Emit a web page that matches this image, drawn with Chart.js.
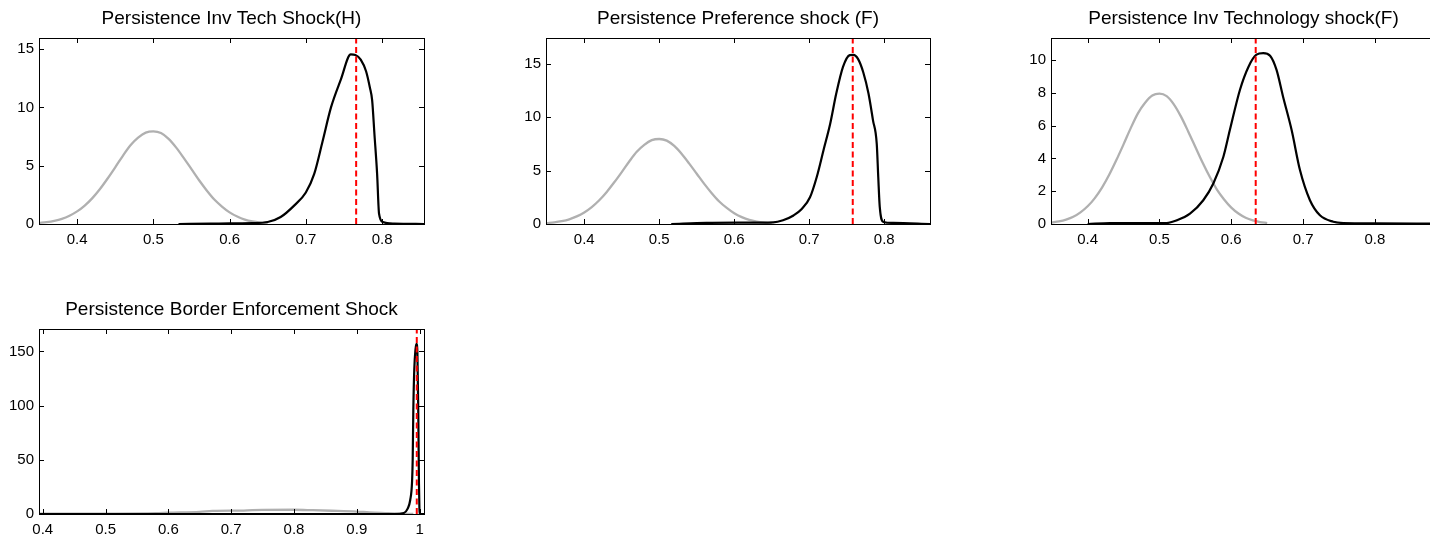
<!DOCTYPE html>
<html>
<head>
<meta charset="utf-8">
<script src="https://cdn.jsdelivr.net/npm/chart.js@4.4.0/dist/chart.umd.min.js"></script>
<style>
  html, body { margin: 0; padding: 0; background: #fff; overflow: hidden; }
  body { width: 1430px; height: 535px; position: relative; }
  canvas { position: absolute; }
</style>
</head>
<body>
<canvas id="c1"></canvas>
<canvas id="c2"></canvas>
<canvas id="c3"></canvas>
<canvas id="c4"></canvas>
<script>
// panel titles
var titles = [
  'Persistence Inv Tech Shock(H)',
  'Persistence Preference shock (F)',
  'Persistence Inv Technology shock(F)',
  'Persistence Border Enforcement Shock'
];

// prior density (grey), same prior for the first three panels
var priorX = [0.35, 0.36, 0.37, 0.38, 0.39, 0.40, 0.41, 0.42, 0.43, 0.44, 0.45, 0.46, 0.47, 0.48, 0.49, 0.50,
              0.51, 0.52, 0.53, 0.54, 0.55, 0.56, 0.57, 0.58, 0.59, 0.60, 0.61, 0.62, 0.63, 0.64, 0.65];
var priorY = [0.09, 0.16, 0.27, 0.44, 0.71, 1.08, 1.58, 2.22, 3.00, 3.90, 4.86, 5.85, 6.75, 7.40, 7.84, 7.95,
              7.80, 7.30, 6.55, 5.65, 4.70, 3.75, 2.88, 2.10, 1.50, 1.00, 0.64, 0.38, 0.22, 0.12, 0.06];

// posterior densities (black)
var postInvTechHX = [0.533, 0.575, 0.600, 0.630, 0.650, 0.667, 0.685, 0.700, 0.711, 0.722, 0.733, 0.746,
                     0.759, 0.765, 0.772, 0.779, 0.784, 0.787, 0.790, 0.7935, 0.796, 0.801, 0.816, 0.855];
var postInvTechHY = [0.00, 0.03, 0.06, 0.08, 0.17, 0.60, 1.60, 2.70, 4.30, 7.10, 10.0, 12.4,
                     14.55, 14.5, 14.1, 13.1, 11.7, 10.6, 7.7, 4.3, 0.9, 0.17, 0.03, 0.0];

var postPrefFX = [0.516, 0.563, 0.610, 0.652, 0.665, 0.679, 0.690, 0.701, 0.710, 0.719, 0.728, 0.736, 0.745,
                  0.754, 0.759, 0.765, 0.772, 0.779, 0.785, 0.790, 0.792, 0.794, 0.799, 0.812, 0.861];
var postPrefFY = [0.00, 0.10, 0.12, 0.15, 0.35, 0.80, 1.40, 2.50, 4.40, 6.90, 9.40, 12.2, 14.7,
                  15.8, 15.83, 15.45, 14.2, 12.2, 9.7, 7.5, 4.4, 1.6, 0.19, 0.10, 0.00];

var postInvTechFX = [0.400, 0.431, 0.510, 0.524, 0.5425, 0.561, 0.575, 0.589, 0.598, 0.612, 0.624, 0.635,
                     0.6445, 0.654, 0.663, 0.672, 0.684, 0.6956, 0.7095, 0.7234, 0.742, 0.756, 0.800, 0.885];
var postInvTechFY = [0.00, 0.06, 0.06, 0.22, 0.63, 1.45, 2.47, 4.10, 5.73, 8.18, 9.60, 10.33,
                     10.43, 10.27, 9.40, 7.78, 5.73, 3.29, 1.45, 0.53, 0.14, 0.06, 0.04, 0.02];

// border enforcement: own prior and posterior
var priorBorderX = [0.394, 0.500, 0.580, 0.600, 0.650, 0.670, 0.720, 0.750, 0.800, 0.830, 0.860, 0.900,
                    0.920, 0.950, 0.970, 0.990];
var priorBorderY = [0.3, 0.4, 0.8, 1.2, 2.0, 2.8, 3.2, 3.8, 3.9, 3.5, 3.0, 2.2, 1.5, 0.8, 0.3, 0.05];
var postBorderX = [0.394, 0.960, 0.975, 0.981, 0.985, 0.988, 0.989, 0.990, 0.9915, 0.9935, 0.995, 0.9965,
                   0.998, 0.999, 0.9997, 1.000, 1.007];
var postBorderY = [0, 0, 1, 5, 12.7, 30, 50, 96, 133, 152, 157, 149, 87, 28, 5, 0, 0];

// posterior mode (red dashed line)
var modes = [0.766, 0.758, 0.634, 0.9955];

// axis limits and tick steps
var xLimits = [[0.35, 0.855], [0.349, 0.861], [0.349, 0.885], [0.394, 1.007]];
var yMax = [15.95, 17.4, 11.35, 170.7];
var yStep = [5, 5, 2, 50];

// where each axes box sits on the page
var boxes = [
  {left: 39, top: 38, w: 385, h: 186},
  {left: 546, top: 38, w: 384, h: 186},
  {left: 1051, top: 38, w: 385, h: 186},
  {left: 39, top: 329, w: 385, h: 185}
];

var FONT = '"Liberation Sans", Arial, Helvetica, sans-serif';
var PADL = 45, TITLEH = 38, XAXH = 36, PADR = 10;

function pts(xs, ys) {
  return xs.map(function (v, i) { return {x: v, y: ys[i]}; });
}

// axes box plus inward ticks on all four sides
var frameTicks = {
  id: 'frameTicks',
  afterDatasetsDraw: function (chart) {
    var ctx = chart.ctx, a = chart.chartArea, x = chart.scales.x, y = chart.scales.y;
    ctx.save();
    ctx.strokeStyle = '#000';
    ctx.lineWidth = 1;
    ctx.beginPath();
    x.ticks.forEach(function (t) {
      var px = Math.round(x.getPixelForValue(t.value)) + 0.5;
      ctx.moveTo(px, a.bottom); ctx.lineTo(px, a.bottom - 5);
      ctx.moveTo(px, a.top); ctx.lineTo(px, a.top + 5);
    });
    y.ticks.forEach(function (t) {
      var py = Math.round(y.getPixelForValue(t.value)) + 0.5;
      ctx.moveTo(a.left, py); ctx.lineTo(a.left + 5, py);
      ctx.moveTo(a.right, py); ctx.lineTo(a.right - 5, py);
    });
    ctx.stroke();
    ctx.strokeRect(Math.round(a.left) + 0.5, Math.round(a.top) + 0.5,
                   Math.round(a.right - a.left), Math.round(a.bottom - a.top));
    ctx.restore();
  }
};

function makePanel(i, prior, post) {
  var b = boxes[i];
  var canvas = document.getElementById('c' + (i + 1));
  canvas.width = PADL + b.w + PADR;
  canvas.height = TITLEH + b.h + XAXH;
  canvas.style.left = (b.left - PADL) + 'px';
  canvas.style.top = (b.top - TITLEH) + 'px';

  new Chart(canvas.getContext('2d'), {
    type: 'line',
    data: {
      datasets: [
        {
          data: [{x: modes[i], y: 0}, {x: modes[i], y: yMax[i]}],
          borderColor: '#ff0000', borderWidth: 2, borderDash: [6, 3.5],
          pointRadius: 0, tension: 0
        },
        {
          data: post,
          borderColor: '#000000', borderWidth: 2.2,
          pointRadius: 0, cubicInterpolationMode: 'monotone'
        },
        {
          data: prior,
          borderColor: '#b0b0b0', borderWidth: 2.3,
          pointRadius: 0, cubicInterpolationMode: 'monotone'
        }
      ]
    },
    options: {
      responsive: false,
      animation: false,
      devicePixelRatio: 1,
      layout: { padding: { left: 0, right: PADR, top: 0, bottom: 0 } },
      plugins: {
        legend: { display: false },
        tooltip: { enabled: false },
        title: {
          display: true,
          text: titles[i],
          fullSize: false,
          color: '#000',
          font: { family: FONT, size: 19, weight: 'normal', lineHeight: 1.2 },
          padding: { top: 7, bottom: 8.2 }
        }
      },
      scales: {
        x: {
          type: 'linear',
          min: xLimits[i][0],
          max: xLimits[i][1],
          grid: { display: false, drawTicks: false },
          border: { display: false },
          ticks: {
            stepSize: 0.1,
            includeBounds: false,
            autoSkip: false,
            maxRotation: 0,
            padding: 7,
            color: '#000',
            font: { family: FONT, size: 15 },
            callback: function (v) { return String(Math.round(v * 10) / 10); }
          },
          afterFit: function (s) { s.height = XAXH; }
        },
        y: {
          min: 0,
          max: yMax[i],
          grid: { display: false, drawTicks: false },
          border: { display: false },
          ticks: {
            stepSize: yStep[i],
            includeBounds: false,
            padding: 5,
            color: '#000',
            font: { family: FONT, size: 15 },
            callback: function (v) { return String(v); }
          },
          afterFit: function (s) { s.width = PADL; }
        }
      }
    },
    plugins: [frameTicks]
  });
}

makePanel(0, pts(priorX, priorY), pts(postInvTechHX, postInvTechHY));
makePanel(1, pts(priorX, priorY), pts(postPrefFX, postPrefFY));
makePanel(2, pts(priorX, priorY), pts(postInvTechFX, postInvTechFY));
makePanel(3, pts(priorBorderX, priorBorderY), pts(postBorderX, postBorderY));
</script>
</body>
</html>
